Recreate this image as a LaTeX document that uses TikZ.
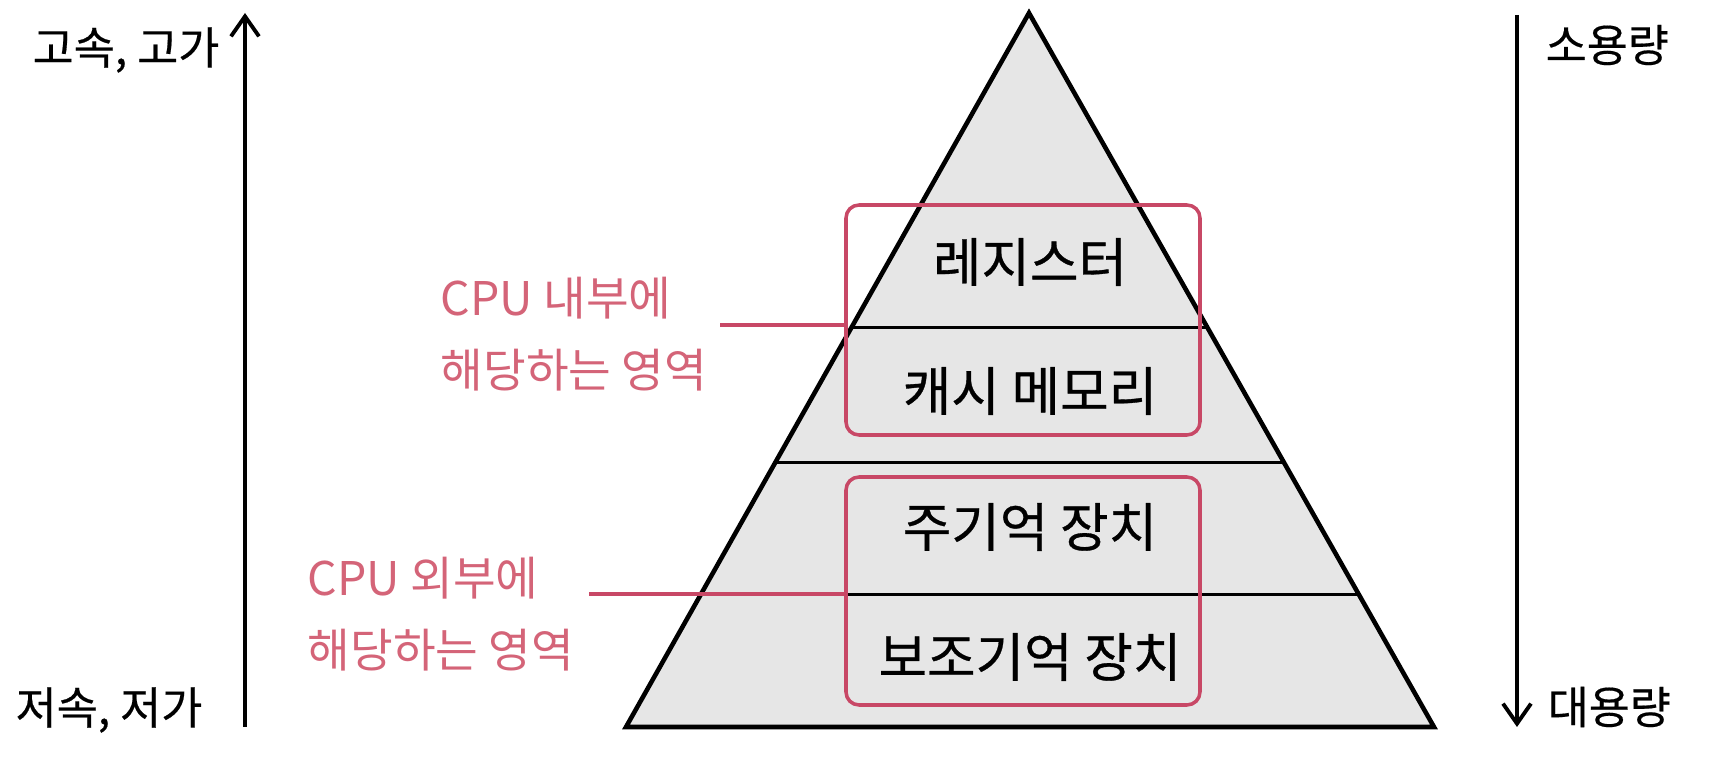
\documentclass[tikz,border=0pt]{standalone}
\usepackage{fontspec}
\setmainfont{Noto Sans CJK KR}
\usepackage{xcolor}
\usepackage{tikz}
\usetikzlibrary{calc, arrows.meta, positioning}

\definecolor{cpured}{RGB}{200,72,102}
\definecolor{cputext}{RGB}{212,100,120}
\definecolor{layergray}{RGB}{230,230,230}

\begin{document}
\begin{tikzpicture}[x=0.1mm, y=-0.1mm,
    >={Straight Barb[length=2mm,width=2.8mm]},
    layer/.style={inner sep=0, font=\fontsize{15}{18}\selectfont\addfontfeature{FakeBold=0.6}},
    cpubox/.style={draw=cpured, line width=1pt, rounded corners=1.3mm,
        minimum width=35.4mm, inner sep=0},
    cpulabel/.style={text=cputext, align=left, anchor=west, inner sep=0,
        font=\fontsize{13.2}{20.5}\selectfont},
    side/.style={anchor=west, inner sep=0, font=\fontsize{12.7}{15}\selectfont\addfontfeature{FakeBold=0.4}}]
    \useasboundingbox (0,0) rectangle (1732,762);

    % 1. Pyramid
    \coordinate (apex) at (1029,13);
    \coordinate (bl) at (626,727);
    \coordinate (br) at (1434,727);
    \fill[layergray] (apex) -- (bl) -- (br) -- cycle;
    \foreach \t in {0.44,0.629,0.814} {
        \draw[line width=0.8pt] ($(apex)!\t!(bl)$) -- ($(apex)!\t!(br)$);
    }
    \draw[line width=1.3pt, line join=miter] (apex) -- (bl) -- (br) -- cycle;

    % 2. Layers
    \node[layer] (reg) at (1030,262) {레지스터};
    \node[layer] (cache) at (1030,391) {캐시 메모리};
    \node[layer] (main) at (1030,527) {주기억 장치};
    \node[layer] (aux) at (1030,657) {보조기억 장치};

    % 3. CPU boxes and labels
    \node[cpubox, minimum height=23mm] (inbox) at (1023,320) {};
    \node[cpubox, minimum height=22.8mm] (outbox) at (1023,591) {};
    \node[cpulabel] (inlabel) at (440,334) {CPU 내부에\\해당하는 영역};
    \node[cpulabel] (outlabel) at (307,614) {CPU 외부에\\해당하는 영역};
    \coordinate (inend) at (720,325);
    \coordinate (outend) at (589,594);
    \draw[cpured, line width=1pt] (inend) -- (inend -| inbox.west);
    \draw[cpured, line width=1pt] (outend) -- (outend -| outbox.west);

    % 4. Side arrows
    \coordinate (lbot) at (245,727);
    \coordinate (ltop) at (245,13);
    \coordinate (rtop) at (1517,15);
    \coordinate (rbot) at (1517,727);
    \draw[->, line width=1.1pt] (lbot) -- (ltop);
    \draw[->, line width=1.1pt] (rtop) -- (rbot);
    \node[side] (fast) at (32,50) {고속, 고가};
    \node[side] (slow) at (15,710) {저속, 저가};
    \node[side] (small) at (1545,45) {소용량};
    \node[side] (large) at (1547,707) {대용량};
\end{tikzpicture}
\end{document}
